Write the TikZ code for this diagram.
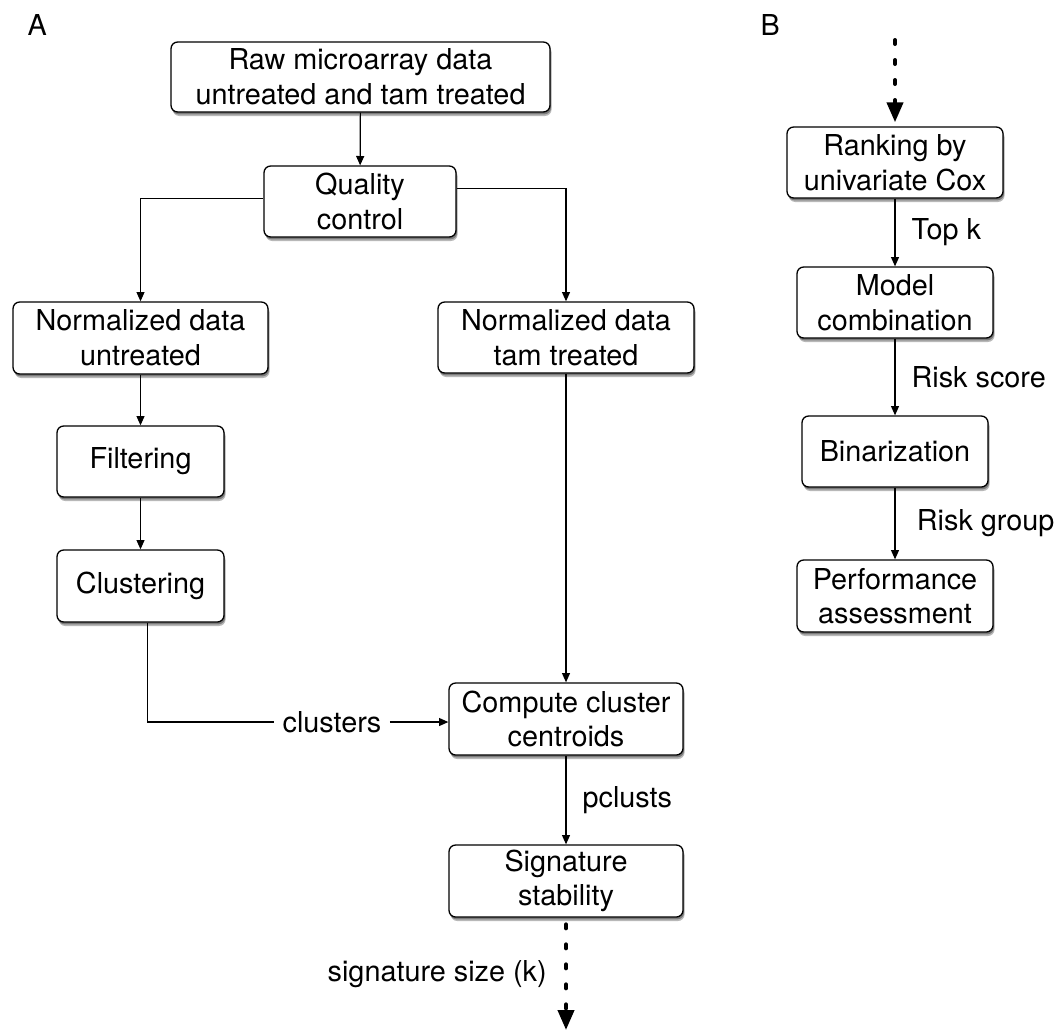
\documentclass[tikz,border=0pt]{standalone}
\usepackage{fontspec}
\setmainfont{TeX Gyre Heros}
\usetikzlibrary{arrows.meta,shadows}

\tikzset{every picture/.style={line width=0.75pt}}
\tikzset{
	box/.style={draw, fill=white, rounded corners=5pt, line width=1pt, align=center, inner sep=0pt,
		drop shadow={shadow xshift=1.2pt, shadow yshift=-3pt, opacity=0.35, fill=black!80},
		drop shadow={shadow xshift=0.8pt, shadow yshift=-1.8pt, opacity=0.45, fill=black!80}},
	lbl/.style={inner sep=0pt},
	arr/.style={-{Triangle[length=7pt,width=6pt]}, line width=0.9pt},
	dotarr/.style={-{Triangle[length=15pt,width=12pt]}, line width=3pt, line cap=round, dash pattern=on 3pt off 12pt}
}

\begin{document}
\begin{tikzpicture}[x=0.75pt,y=0.75pt,yscale=-1,xscale=1, every node/.style={font=\fontsize{21.6pt}{26pt}\selectfont}]
		\useasboundingbox (0,0) rectangle (1055,1032);
		
		%panel A
		\node [lbl, anchor=base west] (la) at (27,35) {A};
		\node [box, minimum width=284.25pt, minimum height=52.5pt] (raw) at (360.5,77) {Raw microarray data\\untreated and tam treated};
		\node [box, minimum width=144pt, minimum height=53.25pt] (qc) at (360,201.5) {Quality\\control};
		\node [box, minimum width=191.25pt, minimum height=54pt] (normu) at (140.5,338) {Normalized data\\untreated};
		\node [box, minimum width=192pt, minimum height=53.25pt] (normt) at (566,337.5) {Normalized data\\tam treated};
		\node [box, minimum width=125.25pt, minimum height=53.25pt] (filt) at (140.5,461.5) {Filtering};
		\node [box, minimum width=125.25pt, minimum height=54pt] (clust) at (140.5,586) {Clustering};
		\node [box, minimum width=175.5pt, minimum height=54pt] (comp) at (566,719) {Compute cluster\\centroids};
		\node [box, minimum width=175.5pt, minimum height=54pt] (sig) at (566,881) {Signature\\stability};
		\node [lbl, inner sep=6pt] (clusters) at (332,722) {clusters};
		\coordinate (kout) at (566,1030);
		
		\draw [arr] (raw) -- (qc);
		\draw [arr] ([yshift=-2.5pt]qc.west) -| (normu);
		\draw [arr] ([yshift=-10pt]qc.east) -| (normt);
		\draw [arr] (normu) -- (filt);
		\draw [arr] (filt) -- (clust);
		\draw [line width=0.9pt] ([xshift=5.5pt]clust.south) |- (clusters.west);
		\draw [arr] (clusters.east) -- (clusters.east -| comp.west);
		\draw [arr] (normt) -- (comp);
		\draw [arr] (comp) -- node [lbl, right=12pt] {pclusts} (sig);
		\draw [dotarr, shorten <=5pt] (sig) -- node [lbl, left=13pt] {signature size (k)} (kout);
		
		%panel B
		\node [lbl, anchor=base west] (lb) at (760,35) {B};
		\node [box, minimum width=162pt, minimum height=53.25pt] (rank) at (895,162.5) {Ranking by\\univariate Cox};
		\node [box, minimum width=147pt, minimum height=53.25pt] (model) at (895,302.5) {Model\\combination};
		\node [box, minimum width=139.5pt, minimum height=53.25pt] (bin) at (895,451.5) {Binarization};
		\node [box, minimum width=147pt, minimum height=54pt] (perf) at (895,596) {Performance\\assessment};
		\coordinate (kin) at (895,40);
		
		\draw [dotarr, shorten >=3pt] (kin) -- (rank);
		\draw [arr] (rank) -- node [lbl, right=12pt] {Top k} (model);
		\draw [arr] (model) -- node [lbl, right=12pt] {Risk score} (bin);
		\draw [arr] (bin) -- node [lbl, right=16pt] {Risk group} (perf);
		
\end{tikzpicture}
\end{document}
